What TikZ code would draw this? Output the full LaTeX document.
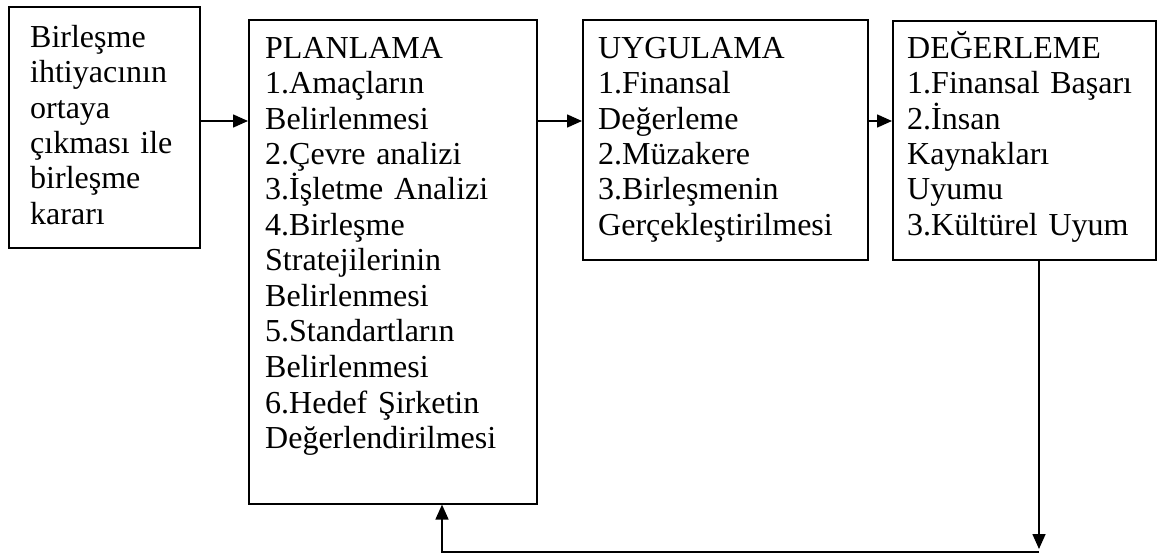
\documentclass[tikz,border=0pt]{standalone}
\usepackage{fontspec}
\setmainfont{Liberation Serif}
\usetikzlibrary{arrows.meta}
\begin{document}
\begin{tikzpicture}[x=1pt,y=1pt,
  box/.style={draw, line width=1.6pt, rectangle, inner sep=0pt, anchor=north west},
  txt/.style={anchor=base west, inner sep=0pt, align=left, text width=290pt,
    font=\fontsize{32}{35.5}\selectfont},
  arr/.style={line width=1.6pt, -{Triangle[length=15pt,width=13pt]}},
  ln/.style={line width=1.6pt}]
\useasboundingbox (0,0) rectangle (1165,-554);
\node[box, minimum width=191pt, minimum height=241pt] (b1) at (8,-6) {};
\node[box, minimum width=288pt, minimum height=484pt] (b2) at (248,-19) {};
\node[box, minimum width=285pt, minimum height=240pt] (b3) at (582,-19) {};
\node[box, minimum width=263pt, minimum height=239pt] (b4) at (892,-20) {};
\node[txt] (t1) at (30,-47) {Birleşme\\ihtiyacının\\ortaya\\çıkması ile\\birleşme\\kararı};
\node[txt] (t2) at (265,-58) {PLANLAMA\\1.Amaçların\\Belirlenmesi\\2.Çevre analizi\\3.İşletme Analizi\\4.Birleşme\\Stratejilerinin\\Belirlenmesi\\5.Standartların\\Belirlenmesi\\6.Hedef Şirketin\\Değerlendirilmesi};
\node[txt] (t3) at (598,-58) {UYGULAMA\\1.Finansal\\Değerleme\\2.Müzakere\\3.Birleşmenin\\Gerçekleştirilmesi};
\node[txt] (t4) at (907,-58) {DEĞERLEME\\1.Finansal Başarı\\2.İnsan\\Kaynakları\\Uyumu\\3.Kültürel Uyum};
\coordinate (ry) at (0,-121);
\draw[arr] (b1.east |- ry) -- (b2.west |- ry);
\draw[arr] (b2.east |- ry) -- (b3.west |- ry);
\draw[arr] (b3.east |- ry) -- (b4.west |- ry);
\coordinate (fr) at (1039,-549);
\coordinate (frb) at (1039,-552);
\coordinate (fl) at (442,-552);
\draw[arr] (b4.south -| fr) -- (fr);
\draw[arr] (frb) -- (fl) -- (b2.south -| fl);
\end{tikzpicture}
\end{document}
